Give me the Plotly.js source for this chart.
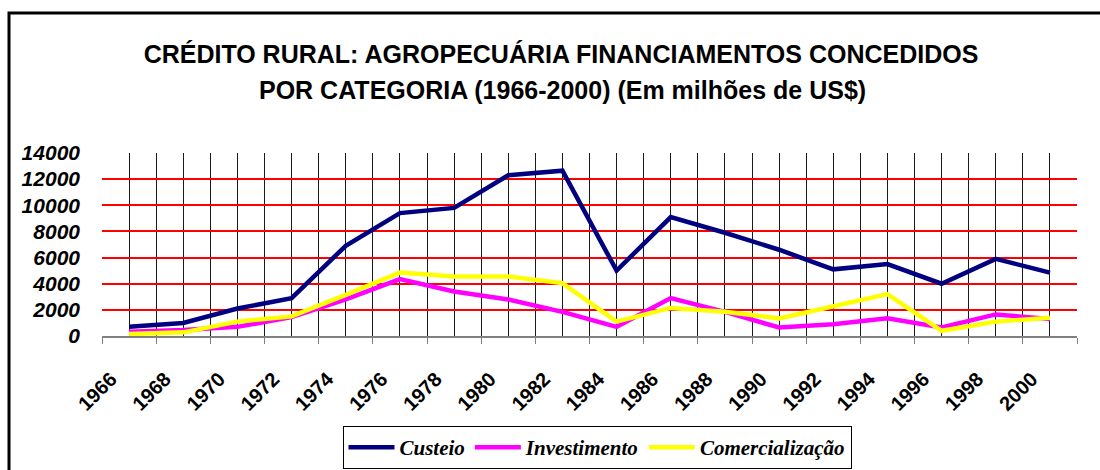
<!DOCTYPE html>
<html>
<head>
<meta charset="utf-8">
<script src="https://cdn.plot.ly/plotly-3.0.1.min.js"></script>
<style>html,body{margin:0;padding:0;background:#fff;}#chart{width:1100px;height:470px;}</style>
</head>
<body>
<div id="chart"></div>
<script>
const years = [1966,1968,1970,1972,1974,1976,1978,1980,1982,1984,1986,1988,1990,1992,1994,1996,1998,2000];
const custeio = [700,1000,2100,2900,6900,9400,9800,12300,12650,5000,9100,7900,6600,5100,5500,4000,5900,4850];
const investimento = [330,450,700,1450,2800,4350,3400,2800,1850,700,2900,1850,650,900,1350,650,1650,1300];
const comercializacao = [150,280,1100,1500,3150,4850,4550,4550,4050,1100,2150,1850,1350,2250,3200,400,1100,1400];
const yTicks = [0,2000,4000,6000,8000,10000,12000,14000];
const yTickText = ['0','2000','4000','6000','8000','10000','12000','14000'];
const titleLine1 = 'CRÉDITO RURAL: AGROPECUÁRIA FINANCIAMENTOS CONCEDIDOS';
const titleLine2 = 'POR CATEGORIA (1966-2000) (Em milhões de US$)';

const tickPos = years.map(y => y - 1).concat([years[years.length - 1] + 1]);
const tickTxt = years.map(String).concat(['']);

const mk = (name, y, color) => ({
  type: 'scatter', mode: 'lines', name: name, x: years, y: y,
  line: {color: color, width: 4.5}
});

const data = [
  mk('Custeio', custeio, '#000080'),
  mk('Investimento', investimento, '#ff00ff'),
  mk('Comercialização', comercializacao, '#ffff00')
];

const titleFont = {size: 25, weight: 'bold', family: 'Arial, Liberation Sans, sans-serif', color: '#000'};

const layout = {
  width: 1100, height: 470,
  paper_bgcolor: '#ffffff', plot_bgcolor: '#ffffff',
  margin: {l: 102, r: 23, t: 153, b: 134},
  font: {family: 'Arial, Liberation Sans, sans-serif', color: '#000'},
  title: {
    text: titleLine1,
    font: titleFont,
    xref: 'container', x: 0.51, xanchor: 'center',
    yref: 'container', y: 1 - 54/470, yanchor: 'middle'
  },
  annotations: [{
    text: titleLine2, showarrow: false,
    xref: 'paper', x: (562 - 102) / 975, xanchor: 'center',
    yref: 'paper', y: (336 - 90) / 183, yanchor: 'middle',
    font: titleFont
  }],
  showlegend: true,
  legend: {
    orientation: 'h',
    xref: 'container', x: 597/1100, xanchor: 'center',
    yref: 'container', y: 1 - 426/470, yanchor: 'top',
    bordercolor: '#000', borderwidth: 1, bgcolor: '#fff',
    font: {family: 'Liberation Serif, Times New Roman, serif', size: 21, weight: 'bold', style: 'italic', color: '#000'},
    itemwidth: 46
  },
  xaxis: {
    type: 'linear',
    range: [years[0] - 1, years[years.length - 1] + 1],
    tickmode: 'array', tickvals: tickPos, ticktext: tickTxt,
    tickangle: -45,
    ticks: 'outside', ticklen: 6, tickcolor: '#808080', tickwidth: 1,
    ticklabelshift: 9, ticklabelstandoff: 16,
    tickfont: {size: 20, weight: 'bold', family: 'Arial, Liberation Sans, sans-serif', color: '#000'},
    showgrid: true, gridcolor: '#1a1a1a', gridwidth: 1,
    minor: {dtick: 1, tick0: years[0] - 1, showgrid: true, gridcolor: '#1a1a1a', gridwidth: 1, ticks: ''},
    showline: true, linecolor: '#808080', linewidth: 1.5,
    zeroline: false, fixedrange: true
  },
  yaxis: {
    range: [0, 14000],
    tickmode: 'array', tickvals: yTicks, ticktext: yTickText,
    ticks: '', showline: false,
    tickfont: {size: 21, weight: 'bold', style: 'italic', family: 'Arial, Liberation Sans, sans-serif', color: '#000'},
    ticklabelstandoff: 21,
    showgrid: true, gridcolor: 'rgb(255,0,0)', gridwidth: 2,
    zeroline: false, fixedrange: true
  },
  shapes: [{
    type: 'rect', xref: 'paper', yref: 'paper',
    x0: (9 - 102) / 975, x1: 1.2,
    y0: -2, y1: (336 - 13) / 183,
    line: {color: '#000', width: 3}, fillcolor: 'rgba(0,0,0,0)', layer: 'above'
  }]
};

Plotly.newPlot('chart', data, layout, {displayModeBar: false, staticPlot: true});
</script>
</body>
</html>
